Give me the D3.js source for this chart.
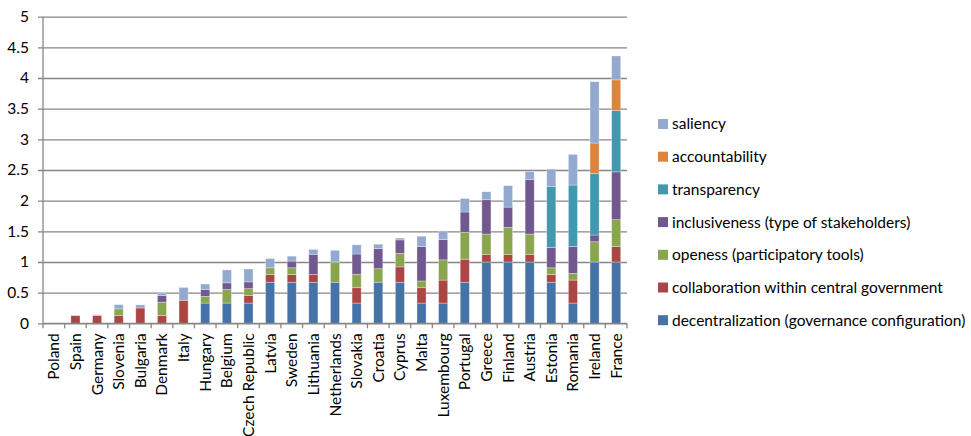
<!DOCTYPE html>
<html>
<head>
<meta charset="utf-8">
<script src="https://cdn.jsdelivr.net/npm/d3@7"></script>
<style>
  body { margin: 0; background: #fff; }
  svg text { font-family: Lato, "Open Sans", sans-serif; fill: #000; }
</style>
</head>
<body>
<svg id="chart" width="971" height="436"></svg>
<script>
var countries = ["Poland", "Spain", "Germany", "Slovenia", "Bulgaria", "Denmark", "Italy",
  "Hungary", "Belgium", "Czech Republic", "Latvia", "Sweden", "Lithuania", "Netherlands",
  "Slovakia", "Croatia", "Cyprus", "Malta", "Luxembourg", "Portugal", "Greece", "Finland",
  "Austria", "Estonia", "Romania", "Ireland", "France"];

var decentralization = [0, 0, 0, 0, 0, 0, 0, 0.33, 0.33, 0.33, 0.67, 0.67, 0.67, 0.67, 0.33, 0.67, 0.67, 0.33, 0.33, 0.67, 1, 1, 1, 0.67, 0.33, 1, 1];
var collaboration = [0, 0.125, 0.125, 0.125, 0.25, 0.125, 0.375, 0, 0, 0.125, 0.125, 0.125, 0.125, 0, 0.25, 0, 0.25, 0.25, 0.375, 0.375, 0.125, 0.125, 0.125, 0.125, 0.375, 0, 0.25];
var openess = [0, 0, 0, 0.11, 0, 0.22, 0, 0.11, 0.22, 0.11, 0.11, 0.11, 0, 0.33, 0.22, 0.22, 0.22, 0.11, 0.33, 0.44, 0.33, 0.44, 0.33, 0.11, 0.11, 0.33, 0.44];
var inclusiveness = [0, 0, 0, 0, 0, 0.11, 0, 0.11, 0.11, 0.11, 0, 0.11, 0.33, 0, 0.33, 0.33, 0.22, 0.56, 0.33, 0.33, 0.56, 0.33, 0.89, 0.33, 0.44, 0.11, 0.78];
var transparency = [0, 0, 0, 0, 0, 0, 0, 0, 0, 0, 0, 0, 0, 0, 0, 0, 0, 0, 0, 0, 0, 0, 0, 1, 1, 1, 1];
var accountability = [0, 0, 0, 0, 0, 0, 0, 0, 0, 0, 0, 0, 0, 0, 0, 0, 0, 0, 0, 0, 0, 0, 0, 0, 0, 0.5, 0.5];
var saliency = [0, 0, 0.015, 0.07, 0.05, 0.04, 0.21, 0.09, 0.21, 0.21, 0.15, 0.08, 0.08, 0.19, 0.15, 0.07, 0.03, 0.17, 0.14, 0.22, 0.13, 0.35, 0.13, 0.28, 0.5, 1, 0.39];

var seriesNames = ["decentralization (governance configuration)", "collaboration within central government",
  "openess (participatory tools)", "inclusiveness (type of stakeholders)", "transparency", "accountability", "saliency"];
var seriesColors = ["#4572A7", "#AA4643", "#89A54E", "#71588F", "#4198AF", "#DB843D", "#93A9CF"];
var yTicks = [0, 0.5, 1, 1.5, 2, 2.5, 3, 3.5, 4, 4.5, 5];

var allSeries = [decentralization, collaboration, openess, inclusiveness, transparency, accountability, saliency];
var rows = countries.map(function (c, i) {
  var r = { country: c };
  allSeries.forEach(function (s, k) { r[seriesNames[k]] = s[i]; });
  return r;
});

var plotLeft = 43, plotRight = 627, plotTop = 16.7, plotBottom = 323.3;
var svg = d3.select("#chart");

var x = d3.scaleBand().domain(countries).range([plotLeft, plotRight]).paddingInner(0.58).paddingOuter(0.29);
var y = d3.scaleLinear().domain([0, 5]).range([plotBottom, plotTop]);

var gridColor = "#868686";

// gridlines (with the little left ticks)
var yAxis = svg.append("g")
  .attr("transform", "translate(" + plotLeft + ",0)")
  .call(d3.axisLeft(y).tickValues(yTicks).tickSize(-(plotRight - plotLeft)).tickSizeOuter(0)
    .tickPadding(14).tickFormat(function (d) { return d; }));
yAxis.select(".domain").remove();
yAxis.selectAll(".tick line").attr("stroke", gridColor).attr("stroke-width", 1.3).attr("x1", -5);
yAxis.selectAll(".tick text").attr("font-size", 15.5).attr("fill", "#000");

// stacked bars
var stack = d3.stack().keys(seriesNames);
var layers = stack(rows);
svg.append("g").selectAll("g").data(layers).join("g")
  .attr("fill", function (d, i) { return seriesColors[i]; })
  .selectAll("rect").data(function (d) { return d; }).join("rect")
  .filter(function (d) { return d[1] - d[0] > 0; })
  .attr("x", function (d) { return x(d.data.country); })
  .attr("width", x.bandwidth())
  .attr("y", function (d) { return y(d[1]); })
  .attr("height", function (d) { return y(d[0]) - y(d[1]); })
  .attr("stroke", "#fff").attr("stroke-opacity", 0.45).attr("stroke-width", 0.7);

// y axis line
svg.append("line").attr("x1", plotLeft).attr("x2", plotLeft).attr("y1", plotTop).attr("y2", plotBottom)
  .attr("stroke", gridColor).attr("stroke-width", 1.3);

// x axis: ticks between categories
var step = x.step();
var xAxis = svg.append("g");
xAxis.append("line").attr("x1", plotLeft).attr("x2", plotRight).attr("y1", plotBottom).attr("y2", plotBottom)
  .attr("stroke", gridColor).attr("stroke-width", 1.3);
xAxis.selectAll(".xt").data(d3.range(countries.length + 1)).join("line")
  .attr("x1", function (i) { return plotLeft + i * step; })
  .attr("x2", function (i) { return plotLeft + i * step; })
  .attr("y1", plotBottom).attr("y2", plotBottom + 5)
  .attr("stroke", gridColor).attr("stroke-width", 1.3);
xAxis.selectAll("text").data(countries).join("text")
  .attr("transform", function (d) {
    return "translate(" + (x(d) + x.bandwidth() / 2 + 5.5) + "," + (plotBottom + 10) + ") rotate(-90)";
  })
  .attr("text-anchor", "end")
  .attr("font-size", 15.5)
  .text(function (d) { return d; });

// legend
var legendOrder = seriesNames.slice().reverse();
var legendColors = seriesColors.slice().reverse();
var lg = svg.append("g").selectAll("g").data(legendOrder).join("g")
  .attr("transform", function (d, i) { return "translate(658," + (124 + i * 32.7) + ")"; });
lg.append("rect").attr("x", 0).attr("y", -5).attr("width", 10).attr("height", 10)
  .attr("fill", function (d, i) { return legendColors[i]; });
lg.append("text").attr("x", 14).attr("dy", "0.35em").attr("font-size", 15.5)
  .text(function (d) { return d; });
</script>
</body>
</html>
